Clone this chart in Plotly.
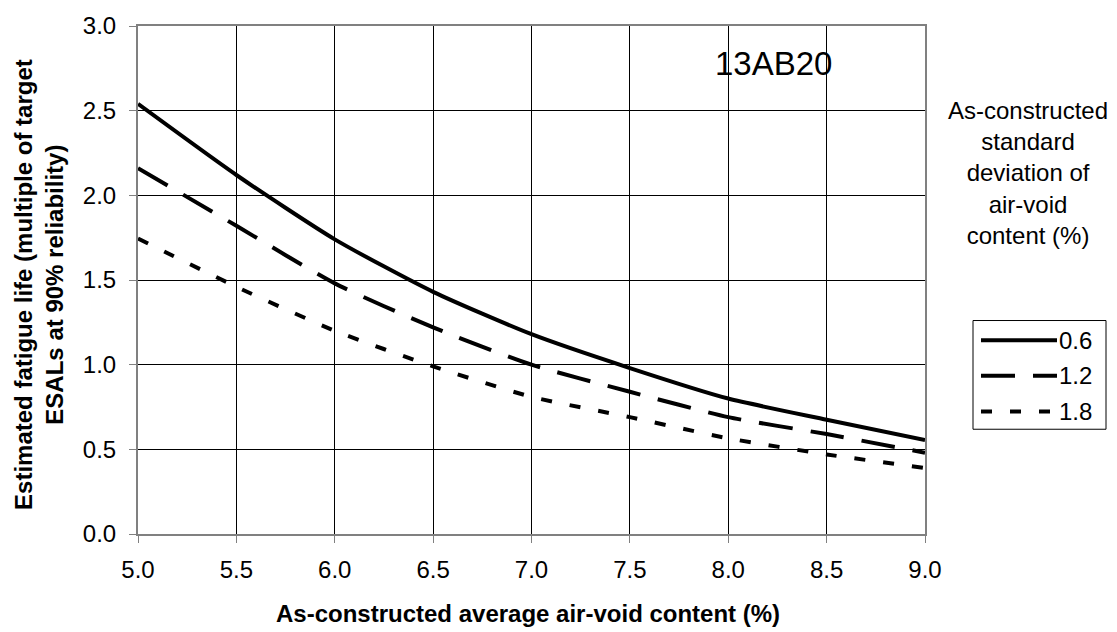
import plotly.graph_objects as go

# ---------------- data ----------------
air_void = [5.0, 5.5, 6.0, 6.5, 7.0, 7.5, 8.0, 8.5, 9.0]
life_sd_06 = [2.54, 2.12, 1.74, 1.43, 1.18, 0.98, 0.80, 0.675, 0.555]
life_sd_12 = [2.16, 1.82, 1.48, 1.22, 1.00, 0.84, 0.69, 0.59, 0.48]
life_sd_18 = [1.745, 1.46, 1.20, 0.99, 0.81, 0.69, 0.565, 0.47, 0.39]
sd_labels = ["0.6", "1.2", "1.8"]
x_tick_vals = [5.0, 5.5, 6.0, 6.5, 7.0, 7.5, 8.0, 8.5, 9.0]
y_tick_vals = [0.0, 0.5, 1.0, 1.5, 2.0, 2.5, 3.0]
mix_label = "13AB20"
x_title = "As-constructed average air-void content (%)"
y_title = "Estimated fatigue life (multiple of target<br>ESALs at 90% reliability)"
legend_title = "As-constructed<br>standard<br>deviation of<br>air-void<br>content (%)"

# ---------------- layout constants ----------------
W, H = 1117, 632
L, R, T, B = 138, 1117 - 925, 20, 632 - 534
PW, PH = W - L - R, H - T - B
FONT = "Liberation Sans, Arial, sans-serif"
FS = 24


def px_x(p):
    return (p - L) / PW


def px_y(p):
    return (H - B - p) / PH


dashes = ["solid", "34px,18px", "11px,18px"]
series = [life_sd_06, life_sd_12, life_sd_18]

fig = go.Figure()
for name, ys, dash in zip(sd_labels, series, dashes):
    fig.add_trace(go.Scatter(
        x=air_void, y=ys, name=name, mode="lines",
        line=dict(color="black", width=4, dash=dash, shape="spline", smoothing=0.6),
        showlegend=False, hoverinfo="x+y+name",
    ))

axis_common = dict(
    showgrid=True, gridcolor="black", gridwidth=1,
    showline=True, linecolor="#808080", linewidth=2, mirror=True,
    ticks="outside", ticklen=7, tickcolor="#808080", tickwidth=1,
    tickfont=dict(family=FONT, size=FS, color="black"),
    zeroline=False, tickformat=".1f",
)

fig.update_xaxes(range=[5, 9], tickvals=x_tick_vals, ticklabelstandoff=6, **axis_common)
fig.update_yaxes(range=[0, 3], tickvals=y_tick_vals, ticklabelstandoff=8, **axis_common)

shapes = []
annotations = []

# manual legend box
shapes.append(dict(type="rect", xref="paper", yref="paper",
                   x0=px_x(973), x1=px_x(1106), y0=px_y(318), y1=px_y(428),
                   line=dict(color="black", width=1), fillcolor="white"))
legend_rows = [338, 374, 410]
for lab, dash, row in zip(sd_labels, dashes, legend_rows):
    shapes.append(dict(type="line", xref="paper", yref="paper",
                       x0=px_x(981), x1=px_x(1057), y0=px_y(row), y1=px_y(row),
                       line=dict(color="black", width=4, dash=dash)))
    annotations.append(dict(text=lab, xref="paper", yref="paper",
                            x=px_x(1057), y=px_y(row), xanchor="left", yanchor="middle",
                            showarrow=False, font=dict(family=FONT, size=FS, color="black")))

# legend title block
annotations.append(dict(text=legend_title, xref="paper", yref="paper",
                        x=px_x(1028), y=px_y(169), xanchor="center", yanchor="middle",
                        align="center", showarrow=False,
                        font=dict(family=FONT, size=FS, color="black")))

# mix label inside plot
annotations.append(dict(text=mix_label, xref="x", yref="y", x=8.23, y=2.78,
                        xanchor="center", yanchor="middle", showarrow=False,
                        font=dict(family=FONT, size=33, color="black")))

# axis titles
annotations.append(dict(text=x_title, xref="paper", yref="paper",
                        x=px_x(528), y=px_y(614), xanchor="center", yanchor="middle",
                        showarrow=False,
                        font=dict(family=FONT, size=FS, color="black", weight="bold")))
annotations.append(dict(text=y_title, xref="paper", yref="paper",
                        x=px_x(39), y=px_y(282), xanchor="center", yanchor="middle",
                        textangle=-90, showarrow=False, align="center",
                        font=dict(family=FONT, size=FS, color="black", weight="bold")))

fig.update_layout(
    width=W, height=H,
    margin=dict(l=L, r=R, t=T, b=B, pad=0),
    paper_bgcolor="white", plot_bgcolor="white",
    showlegend=False,
    shapes=shapes, annotations=annotations,
    font=dict(family=FONT, color="black"),
)

fig.write_html("out.html", config={"displayModeBar": False})
